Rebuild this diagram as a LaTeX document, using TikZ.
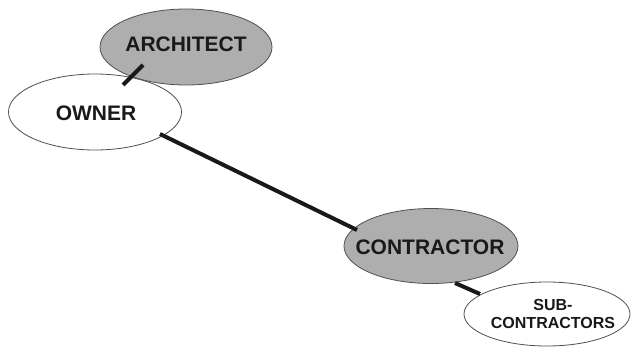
\documentclass[tikz,border=0pt]{standalone}
\usepackage{fontspec}
\setmainfont{Liberation Sans}
\usetikzlibrary{shapes.geometric}
\definecolor{fillgray}{HTML}{AEAEAE}
\definecolor{edgegray}{HTML}{505050}
\tikzset{
  bubble/.style={ellipse, draw=edgegray, line width=0.8pt, inner sep=0pt},
  graybubble/.style={bubble, fill=fillgray},
  whitebubble/.style={bubble, fill=white},
  bigtext/.style={font=\bfseries\fontsize{21}{22}\selectfont, text=black!90, inner sep=0pt},
  smalltext/.style={font=\bfseries\fontsize{16}{18.5}\selectfont, text=black!90, inner sep=0pt, align=center},
  link/.style={line width=4pt, black!90}
}
\begin{document}
\begin{tikzpicture}[x=1pt,y=-1pt]
\useasboundingbox (0,0) rectangle (631,348);
\node[whitebubble, minimum width=173pt, minimum height=76pt] (own) at (95,112) {};
\node[bigtext] (ownt) at (96,113) {OWNER};
\node[graybubble, minimum width=172pt, minimum height=76pt] (arch) at (186,47) {};
\node[bigtext] (archt) at (186,44) {ARCHITECT};
\node[graybubble, minimum width=174pt, minimum height=75pt] (con) at (431,246) {};
\node[bigtext] (cont) at (430,247) {CONTRACTOR};
\node[whitebubble, minimum width=166pt, minimum height=64pt] (sub) at (547,314) {};
\node[smalltext] (subt) at (553,314) {SUB-\\CONTRACTORS};
\draw[link] ([shift={(-43,18)}]arch.center) -- ([shift={(28,-27)}]own.center);
\draw[link] ([shift={(65,22)}]own.center) -- ([shift={(-74,-16)}]con.center);
\draw[link] ([shift={(24,37)}]con.center) -- ([shift={(-67,-20)}]sub.center);
\end{tikzpicture}
\end{document}
